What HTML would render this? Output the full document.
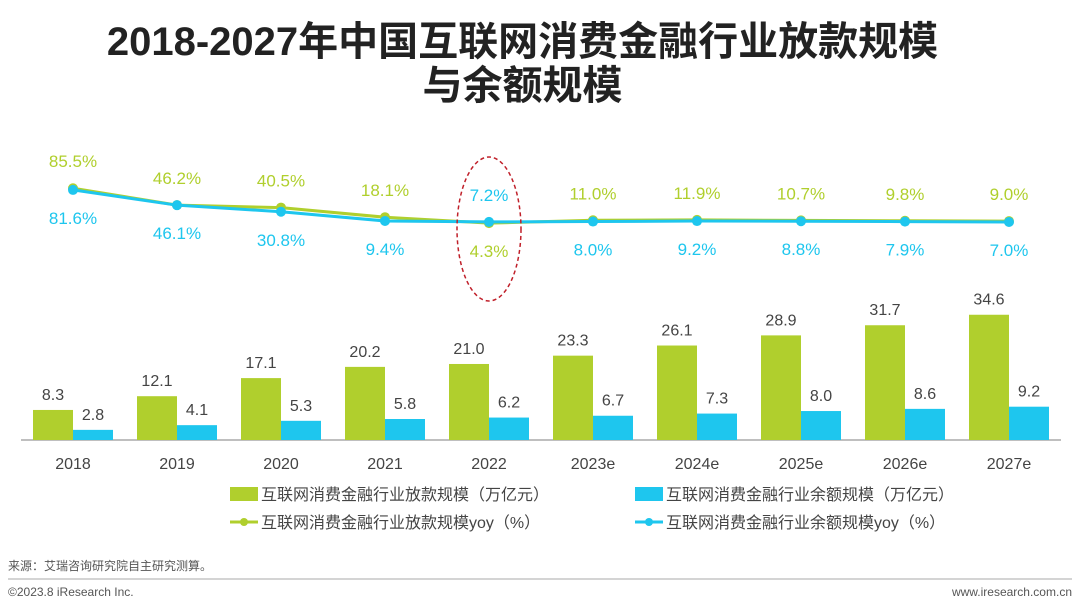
<!DOCTYPE html>
<html><head><meta charset="utf-8"><style>
body{margin:0;background:#fff;font-family:"Liberation Sans","Noto Sans CJK SC",sans-serif;}
#wrap{position:relative;width:1080px;height:606px;overflow:hidden;}
.title{position:absolute;left:0;width:1045px;text-align:center;font-weight:bold;font-size:40px;line-height:44px;color:#222;font-family:"Liberation Sans","Noto Sans CJK SC",sans-serif;}
</style></head><body>
<div id="wrap">
<div class="title" style="top:20px">2018-2027年中国互联网消费金融行业放款规模</div>
<div class="title" style="top:64px">与余额规模</div>
<svg id="chart" width="1080" height="606" style="position:absolute;left:0;top:0"></svg>
</div>
<script>
const categories=["2018","2019","2020","2021","2022","2023e","2024e","2025e","2026e","2027e"];
const loanValues=[8.3,12.1,17.1,20.2,21.0,23.3,26.1,28.9,31.7,34.6];
const balanceValues=[2.8,4.1,5.3,5.8,6.2,6.7,7.3,8.0,8.6,9.2];
const loanYoy=[85.5,46.2,40.5,18.1,4.3,11.0,11.9,10.7,9.8,9.0];
const balanceYoy=[81.6,46.1,30.8,9.4,7.2,8.0,9.2,8.8,7.9,7.0];
const GREEN="#b0cf2d",BLUE="#1ec6ee";
const svg=document.getElementById('chart');
const NS="http://www.w3.org/2000/svg";
function mk(tag,attrs,parent){const e=document.createElementNS(NS,tag);for(const k in attrs)e.setAttribute(k,attrs[k]);(parent||svg).appendChild(e);return e;}
const base=440;
function xC(i){return 73+i*104;}
function yBar(v){return base-v*3.62;}
function yLine(v){return 225-v*0.43;}
const ax=mk('line',{x1:21,y1:440,x2:1061,y2:440,stroke:'#aaa','stroke-width':1.5});


categories.forEach((c,i)=>{
  const cx=xC(i);
  const g=mk('rect',{x:cx-40,y:yBar(loanValues[i]),width:40,height:base-yBar(loanValues[i]),fill:GREEN});
  
  
  const b=mk('rect',{x:cx,y:yBar(balanceValues[i]),width:40,height:base-yBar(balanceValues[i]),fill:BLUE});
  
  
  const t1=mk('text',{x:cx-20,y:yBar(loanValues[i])-10,'text-anchor':'middle','font-size':16,fill:'#444'});t1.textContent=loanValues[i].toFixed(1);
  
  
  const t2=mk('text',{x:cx+20,y:yBar(balanceValues[i])-10,'text-anchor':'middle','font-size':16,fill:'#444'});t2.textContent=balanceValues[i].toFixed(1);
  
  
  const yl=mk('text',{x:cx,y:469,'text-anchor':'middle','font-size':16,fill:'#444'});yl.textContent=c;
  
  
});
function series(vals,color,name){
  const pts=vals.map((v,i)=>xC(i)+','+yLine(v)).join(' ');
  const pl=mk('polyline',{points:pts,fill:'none',stroke:color,'stroke-width':3});
  
  
  vals.forEach((v,i)=>{
    const c=mk('circle',{cx:xC(i),cy:yLine(v),r:5,fill:color});
    
    
  });
}
series(loanYoy,GREEN,'loan-yoy');
series(balanceYoy,BLUE,'balance-yoy');
categories.forEach((c,i)=>{
  const gAbove=loanYoy[i]>=balanceYoy[i];
  const top=Math.min(yLine(loanYoy[i]),yLine(balanceYoy[i]));
  const bot=Math.max(yLine(loanYoy[i]),yLine(balanceYoy[i]));
  const gy=gAbove?top-21:bot+34, by=gAbove?bot+34:top-21;
  const a=mk('text',{x:xC(i),y:gy,'text-anchor':'middle','font-size':17,fill:GREEN});a.textContent=loanYoy[i].toFixed(1)+'%';
  
  
  const b=mk('text',{x:xC(i),y:by,'text-anchor':'middle','font-size':17,fill:BLUE});b.textContent=balanceYoy[i].toFixed(1)+'%';
  
  
});
const el=mk('ellipse',{cx:xC(4),cy:229,rx:32,ry:72,fill:'none',stroke:'#c0202a','stroke-width':1.5,'stroke-dasharray':'4,3'});


function legend(x,y,color,isLine,label,name){
  let m;
  if(isLine){m=mk('line',{x1:x,y1:y,x2:x+28,y2:y,stroke:color,'stroke-width':3});mk('circle',{cx:x+14,cy:y,r:4,fill:color});}
  else m=mk('rect',{x:x,y:y-7,width:28,height:14,fill:color});
  
  
  const t=mk('text',{x:x+31,y:y+6,'font-size':16,fill:'#444'});t.textContent=label;
  
  
}
legend(230,494,GREEN,false,'互联网消费金融行业放款规模（万亿元）','legend-loan');
legend(635,494,BLUE,false,'互联网消费金融行业余额规模（万亿元）','legend-balance');
legend(230,522,GREEN,true,'互联网消费金融行业放款规模yoy（%）','legend-loan-yoy');
legend(635,522,BLUE,true,'互联网消费金融行业余额规模yoy（%）','legend-balance-yoy');
const src=mk('text',{x:8,y:570,'font-size':12,fill:'#555'});src.textContent='来源：艾瑞咨询研究院自主研究测算。';


const hr=mk('line',{x1:8,y1:579,x2:1072,y2:579,stroke:'#aaa','stroke-width':1});


const cp=mk('text',{x:8,y:596,'font-size':12,fill:'#555'});cp.textContent='©2023.8 iResearch Inc.';


const ws=mk('text',{x:1072,y:596,'font-size':12,fill:'#555','text-anchor':'end'});ws.textContent='www.iresearch.com.cn';


</script>
</body></html>
